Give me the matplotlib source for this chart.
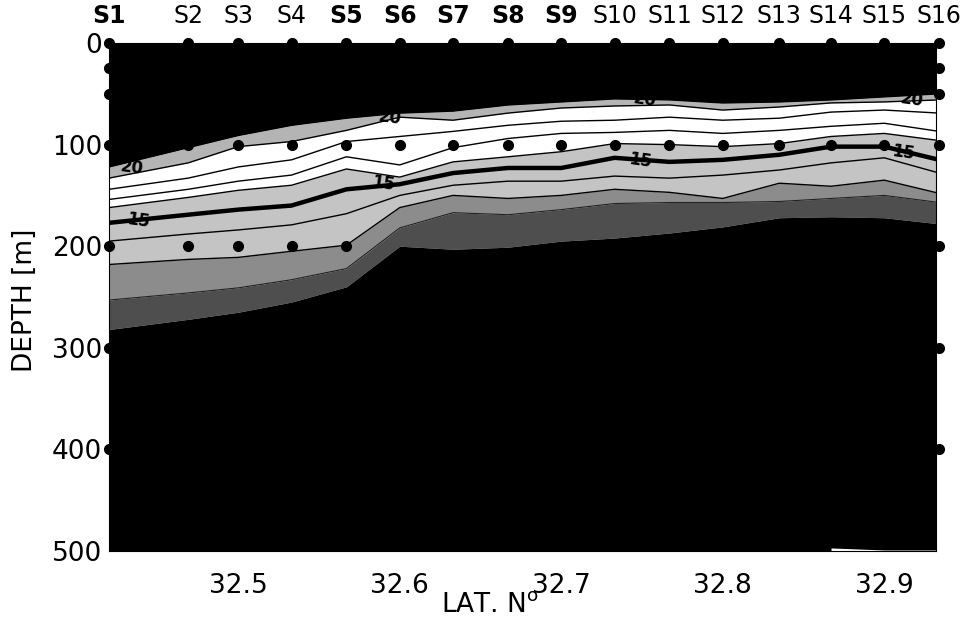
import numpy as np
import matplotlib
matplotlib.use("Agg")
import matplotlib.pyplot as plt

# station names and latitudes
stations = ['S1', 'S2', 'S3', 'S4', 'S5', 'S6', 'S7', 'S8',
            'S9', 'S10', 'S11', 'S12', 'S13', 'S14', 'S15', 'S16']
bold_st = ['S1', 'S5', 'S6', 'S7', 'S8', 'S9']
lat = np.array([32.420, 32.469, 32.500, 32.533, 32.567, 32.600, 32.633, 32.667,
                32.700, 32.733, 32.767, 32.800, 32.835, 32.867, 32.900, 32.934])

# isotherm depths (m) read per station
d20 = [122, 103, 91, 81, 74, 69, 67, 61, 58, 55, 56, 59, 58, 56, 53, 50]
d19 = [133, 118, 102, 97, 86, 73, 76, 69, 64, 62, 61, 66, 63, 59, 58, 56]
d18 = [144, 133, 122, 115, 97, 92, 87, 81, 77, 76, 73, 76, 74, 68, 66, 69]
d17 = [154, 144, 136, 130, 112, 120, 103, 94, 89, 88, 86, 89, 86, 82, 79, 87]
d16 = [162, 152, 145, 140, 124, 132, 117, 112, 107, 99, 100, 102, 99, 92, 89, 96]
d15 = [177, 169, 164, 160, 144, 139, 128, 123, 123, 113, 117, 115, 110, 102, 102, 115]
d14 = [195, 188, 184, 179, 168, 150, 140, 136, 136, 131, 133, 130, 125, 118, 113, 128]
d13 = [218, 213, 211, 205, 199, 162, 150, 153, 150, 144, 147, 153, 138, 141, 135, 148]
d12 = [253, 246, 241, 233, 222, 182, 167, 169, 164, 158, 157, 157, 156, 153, 150, 157]
d11 = [282, 272, 265, 255, 240, 200, 203, 201, 195, 192, 187, 181, 172, 171, 172, 178]
# small cold patch at the bottom (S14-S16)
d10 = [497, 499, 499]

# sampling depths (dots)
samp_all = [0, 25, 50, 100]
samp_200 = ['S1', 'S2', 'S3', 'S4', 'S5']
samp_deep = ['S1', 'S16']

# contour labels: (lat, depth, text)
lab_lat = [32.434, 32.438, 32.594, 32.590, 32.752, 32.749, 32.917, 32.912]
lab_dep = [123, 175, 73, 138, 56, 116, 56, 108]
lab_txt = ['20', '15', '20', '15', '20', '15', '20', '15']

fig = plt.figure(figsize=(9.69, 6.24), dpi=100)
ax = fig.add_axes([109/969, 73/624, 827/969, 508/624])

top = np.zeros(len(lat))
bot = np.full(len(lat), 500.0)
bands = [(top, d20, '#000000'), (d20, d19, '#b4b4b4'), (d19, d16, '#ffffff'),
         (d16, d13, '#c4c4c4'), (d13, d12, '#8c8c8c'), (d12, d11, '#4e4e4e'),
         (d11, bot, '#000000')]
for a, b, c in bands:
    ax.fill_between(lat, a, b, color=c, lw=0)
ax.fill_between(lat[13:], d10, 500, color='white', lw=0)

for d in [d20, d19, d18, d17, d16, d14, d13]:
    ax.plot(lat, d, color='k', lw=1)
ax.plot(lat, d12, color='#222222', lw=0.8)
ax.plot(lat, d15, color='k', lw=3.2)

for x, y, t in zip(lab_lat, lab_dep, lab_txt):
    ax.text(x, y, t, fontsize=12, fontweight='bold', ha='center', va='center',
            rotation=-8, zorder=6)

# sample dots
for s, x in zip(stations, lat):
    deps = list(samp_all)
    if s in samp_200 or s in samp_deep:
        deps.append(200)
    if s in samp_deep:
        deps += [300, 400]
    if s not in ('S1', 'S16'):
        deps = [dd for dd in deps if dd in (0, 100, 200)]
    ax.plot([x] * len(deps), deps, 'o', color='k', ms=7, clip_on=False, zorder=7)

for s, x in zip(stations, lat):
    ax.text(x, -27, s, fontsize=17, ha='center', va='center',
            fontweight='bold' if s in bold_st else 'normal')

ax.set_xlim(32.42, 32.932)
ax.set_ylim(500, 0)
ax.set_xticks([32.5, 32.6, 32.7, 32.8, 32.9])
ax.set_yticks([0, 100, 200, 300, 400, 500])
ax.tick_params(axis='x', length=0, pad=16, labelsize=19)
ax.tick_params(axis='y', length=0, pad=5, labelsize=19)
for sp in ax.spines.values():
    sp.set_linewidth(0.8)

fig.text(25/969, 1 - 300/624, 'DEPTH [m]', rotation=90, fontsize=19,
         ha='center', va='center')
fig.text(490/969, 1 - 605/624, 'LAT. N$^{\\mathrm{o}}$', fontsize=19,
         ha='center', va='center')

fig.savefig('out.png', dpi=100)
